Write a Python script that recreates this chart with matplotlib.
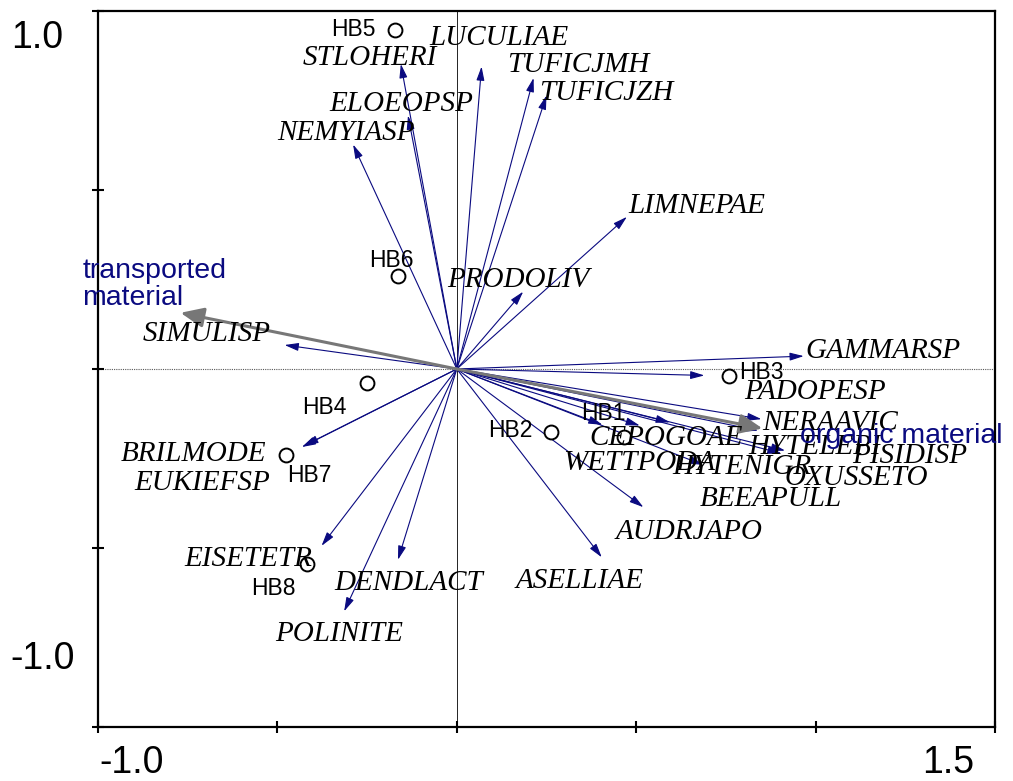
import matplotlib
matplotlib.use("Agg")
import matplotlib.pyplot as plt

# species arrows (tip coordinates) and where their labels sit
species = ["STLOHERI", "ELOEOPSP", "NEMYIASP", "SIMULISP", "LUCULIAE", "TUFICJMH",
           "TUFICJZH", "LIMNEPAE", "PRODOLIV", "GAMMARSP", "PADOPESP", "NERAAVIC",
           "HYTELEPI", "PISIDISP", "CEPOGOAE", "WETTPODA", "HYTENIGR", "OXUSSETO",
           "BEEAPULL", "AUDRJAPO", "ASELLIAE", "DENDLACT", "BRILMODE", "EUKIEFSP",
           "EISETETR", "POLINITE"]
sp_x = [-0.156, -0.136, -0.289, -0.480, 0.069, 0.214, 0.250, 0.474, 0.185, 0.967,
        0.690, 0.849, 0.915, 0.840, 0.406, 0.510, 0.687, 0.905, 0.594, 0.520,
        0.404, -0.164, -0.432, -0.425, -0.377, -0.314]
sp_y = [0.852, 0.708, 0.627, 0.067, 0.845, 0.813, 0.764, 0.425, 0.216, 0.036,
        -0.018, -0.140, -0.228, -0.172, -0.156, -0.158, -0.268, -0.236, -0.149, -0.386,
        -0.526, -0.533, -0.218, -0.214, -0.494, -0.677]
sp_lab_x = [-0.430, -0.356, -0.500, -0.876, -0.077, 0.140, 0.230, 0.479, -0.026, 0.972,
            0.802, 0.850, 0.812, 1.103, 0.369, 0.296, 0.600, 0.913, 0.677, 0.442,
            0.165, -0.342, -0.937, -0.900, -0.760, -0.507]
sp_lab_y = [0.875, 0.748, 0.668, 0.106, 0.931, 0.857, 0.778, 0.462, 0.255, 0.058,
            -0.056, -0.142, -0.211, -0.236, -0.185, -0.255, -0.266, -0.298, -0.356, -0.447,
            -0.585, -0.590, -0.229, -0.312, -0.523, -0.732]

# sample sites
sites = ["HB1", "HB2", "HB3", "HB4", "HB5", "HB6", "HB7", "HB8"]
site_x = [0.466, 0.262, 0.760, -0.249, -0.172, -0.165, -0.477, -0.418]
site_y = [-0.190, -0.175, -0.019, -0.040, 0.947, 0.259, -0.240, -0.544]
site_lab_x = [0.346, 0.087, 0.787, -0.430, -0.351, -0.244, -0.474, -0.574]
site_lab_y = [-0.119, -0.168, -0.005, -0.102, 0.954, 0.309, -0.293, -0.607]

# environmental variables
env = ["transported\nmaterial", "organic material"]
env_x = [-0.770, 0.852]
env_y = [0.157, -0.166]
env_lab_x = [-1.044, 0.957]
env_lab_y = [0.236, -0.188]

navy = "#0a0a80"

fig = plt.figure(figsize=(10.13, 7.81), dpi=100)
ax = fig.add_axes([98 / 1013, 54 / 781, 897 / 1013, 716 / 781])
ax.set_xlim(-1.0, 1.5)
ax.set_ylim(-1.0, 1.0)

ax.axhline(0, color="0.35", lw=0.8, ls=(0, (1, 1)), zorder=1)
ax.axvline(0, color="k", lw=0.6, zorder=1)

for i in range(len(species)):
    ax.annotate("", xy=(sp_x[i], sp_y[i]), xytext=(0, 0),
                arrowprops=dict(arrowstyle="-|>,head_length=0.7,head_width=0.2",
                                color=navy, lw=0.8, mutation_scale=12,
                                shrinkA=0, shrinkB=0), zorder=2)
    ax.text(sp_lab_x[i], sp_lab_y[i] - 0.027, species[i], fontsize=21,
            family="Liberation Serif", style="italic", ha="left", va="baseline",
            zorder=4)

for i in range(len(env)):
    ax.annotate("", xy=(env_x[i], env_y[i]), xytext=(0, 0),
                arrowprops=dict(arrowstyle="-|>,head_length=0.7,head_width=0.3",
                                color="#777777", lw=2.2, mutation_scale=20,
                                shrinkA=0, shrinkB=0), zorder=3)
    ax.text(env_lab_x[i], env_lab_y[i], env[i], fontsize=20.5, color=navy,
            family="Liberation Sans", ha="left", va="center", linespacing=1.05,
            zorder=5)

ax.plot(site_x, site_y, "o", ms=10, mfc="white", mec="k", mew=1.4, ls="none",
        zorder=3)
for i in range(len(sites)):
    ax.text(site_lab_x[i], site_lab_y[i] - 0.023, sites[i], fontsize=16.5,
            family="Liberation Sans", ha="left", va="baseline", zorder=5)

# axes frame and ticks
for s in ax.spines.values():
    s.set_linewidth(1.6)
ax.set_xticks([-1.0, -0.5, 0.0, 0.5, 1.0, 1.5])
ax.set_yticks([-1.0, -0.5, 0.0, 0.5, 1.0])
ax.tick_params(direction="inout", length=9, width=1.5,
               labelbottom=False, labelleft=False)

# axis end labels, placed like the original drawing
lab_font = dict(fontsize=27, family="Liberation Sans", va="baseline")
ax.text(-1.098, 0.897, "1.0", ha="right", **lab_font)
ax.text(-1.065, -0.839, "-1.0", ha="right", **lab_font)
ax.text(-0.995, -1.128, "-1.0", ha="left", **lab_font)
ax.text(1.441, -1.128, "1.5", ha="right", **lab_font)

fig.savefig("out.png", dpi=100)
